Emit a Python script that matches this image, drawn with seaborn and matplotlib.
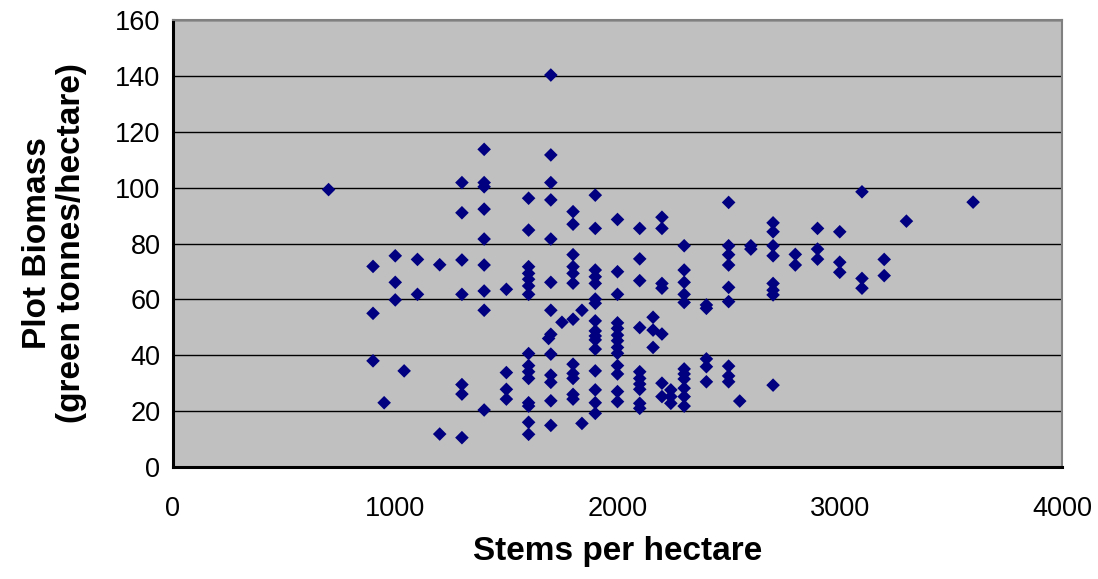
import matplotlib
matplotlib.use("Agg")
import matplotlib.pyplot as plt
import seaborn as sns
import pandas as pd

# Stems per hectare (x columns) and plot biomass readings (green tonnes/hectare)
stem_columns = [700, 900, 950, 1000, 1040, 1100, 1200, 1300, 1400, 1500, 1600, 1690,
                1700, 1750, 1800, 1840, 1900, 2000, 2100, 2160, 2200, 2240, 2300,
                2400, 2500, 2550, 2600, 2700, 2800, 2900, 3000, 3100, 3200, 3300, 3600]

biomass_columns = [
    [99.3],
    [71.8, 55.0, 38.0],
    [23.0],
    [75.6, 66.1, 59.8],
    [34.4],
    [74.3, 61.8],
    [72.4, 11.8],
    [101.8, 91.0, 74.1, 61.8, 29.5, 26.1, 10.5],
    [113.7, 101.8, 100.3, 92.3, 81.6, 72.3, 63.0, 56.1, 20.4],
    [63.6, 33.8, 27.8, 24.3],
    [96.2, 84.8, 71.7, 69.3, 67.2, 64.8, 61.8, 40.6, 36.3, 34.1, 31.7, 23.0, 21.8, 16.0, 11.7],
    [46.0],
    [140.3, 111.7, 101.8, 95.6, 81.6, 66.1, 56.1, 47.5, 40.4, 32.9, 30.3, 23.7, 14.9],
    [51.8],
    [91.4, 86.9, 76.0, 71.7, 69.3, 65.8, 52.9, 36.8, 33.5, 31.7, 26.0, 24.3],
    [56.1, 15.6],
    [97.3, 85.4, 70.5, 68.1, 65.7, 60.1, 58.6, 52.3, 48.7, 46.9, 45.5, 42.2, 34.4, 27.6, 23.0, 19.2],
    [88.6, 69.9, 61.8, 51.6, 49.6, 47.2, 45.2, 42.8, 40.7, 36.3, 33.3, 27.0, 23.4],
    [85.4, 74.5, 66.7, 49.9, 34.1, 31.7, 29.7, 27.8, 22.8, 21.0],
    [53.6, 49.0, 42.8],
    [89.4, 85.4, 65.7, 64.0, 47.6, 30.0, 25.2],
    [27.6, 25.2, 22.8],
    [79.2, 70.5, 66.1, 61.8, 58.9, 35.1, 33.3, 31.5, 28.2, 25.2, 21.8],
    [58.0, 56.8, 38.7, 35.9, 30.5],
    [94.7, 79.2, 76.0, 72.3, 64.3, 59.2, 36.1, 32.6, 30.5],
    [23.6],
    [79.2, 78.0],
    [87.4, 84.2, 79.2, 75.6, 65.7, 63.3, 61.6, 29.3],
    [76.1, 72.3],
    [85.4, 78.0, 74.4],
    [84.2, 73.3, 69.7],
    [98.5, 67.5, 64.0],
    [74.3, 68.5],
    [88.0],
    [94.8],
]

x_ticks = [0, 1000, 2000, 3000, 4000]
y_ticks = [0, 20, 40, 60, 80, 100, 120, 140, 160]

stems = [s for s, vals in zip(stem_columns, biomass_columns) for _ in vals]
biomass = [v for vals in biomass_columns for v in vals]
df = pd.DataFrame({"stems": stems, "biomass": biomass})

sns.set_theme(style="white")
plt.rcParams["font.family"] = ["Liberation Sans", "DejaVu Sans"]

fig = plt.figure(figsize=(10.98, 5.79), dpi=100)
ax = fig.add_axes([173 / 1098, (579 - 467) / 579, (1062 - 173) / 1098, (467 - 20) / 579])
ax.set_facecolor("#C0C0C0")

sns.scatterplot(data=df, x="stems", y="biomass", marker="D", s=48,
                color="#000080", edgecolor="none", linewidth=0, ax=ax, zorder=3)

ax.set_xlim(0, 4000)
ax.set_ylim(0, 160)
ax.set_xticks(x_ticks)
ax.set_yticks(y_ticks)
ax.set_xticklabels([str(v) for v in x_ticks], fontsize=19.5)
ax.set_yticklabels([str(v) for v in y_ticks], fontsize=19.5)
ax.yaxis.grid(True, color="black", linewidth=1.0)
ax.xaxis.grid(False)
ax.set_axisbelow(True)

ax.tick_params(axis="both", which="major", direction="out", length=6, width=1.5,
               color="black", labelcolor="black")
ax.tick_params(axis="x", pad=15)
ax.tick_params(axis="y", pad=3)

for side in ["left", "bottom"]:
    ax.spines[side].set_color("black")
    ax.spines[side].set_linewidth(2.2)
for side in ["top", "right"]:
    ax.spines[side].set_color("#808080")
    ax.spines[side].set_linewidth(1.5)
    ax.spines[side].set_visible(True)

ax.set_xlabel("Stems per hectare", fontsize=24, fontweight="bold", labelpad=10,
              color="black")
ax.set_ylabel("Plot Biomass\n(green tonnes/hectare)", fontsize=24, fontweight="bold",
              labelpad=20, linespacing=1.15, color="black")

fig.savefig("out.png", dpi=100, facecolor="white")
